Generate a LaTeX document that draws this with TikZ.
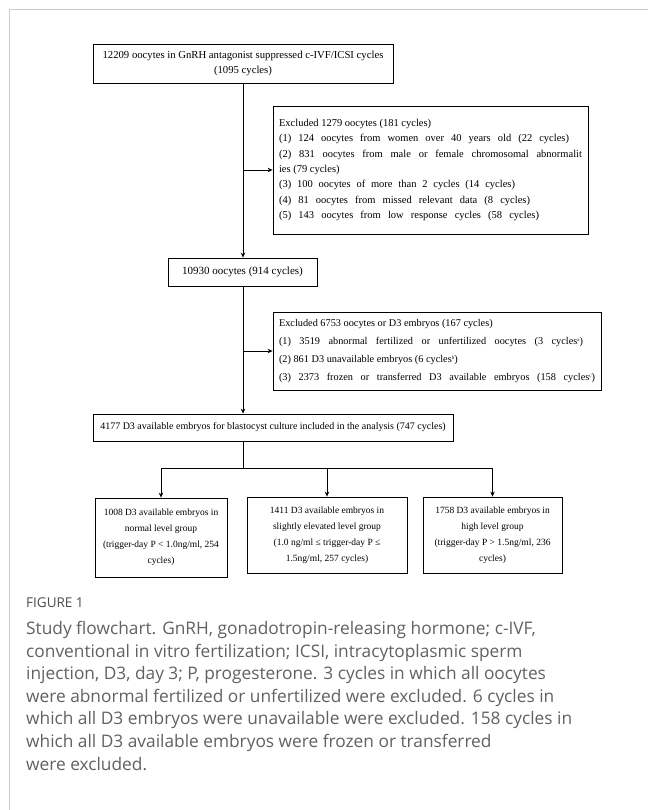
\documentclass[tikz,border=0pt]{standalone}
\usepackage{fontspec}
\setmainfont{Liberation Serif}
\newfontfamily\capfont{Open Sans}
\usetikzlibrary{arrows.meta}
\newcommand{\supl}[1]{\raisebox{3pt}{\fontsize{5}{5}\selectfont #1}}
\begin{document}
\begin{tikzpicture}[x=1pt,y=-1pt,
  box/.style={draw, line width=0.8pt, rectangle, inner sep=0pt},
  arr/.style={line width=0.8pt, -{Stealth[length=5pt,width=4.5pt]}},
  ln/.style={line width=0.8pt},
  grp/.style={box, align=center, font={\fontsize{9.5}{16}\selectfont}},
  exc/.style={box, align=left}]
\useasboundingbox (0,0) rectangle (648,810);
\draw[black!20, line width=0.8pt] (9,810) -- (9,9) -- (648,9);

\node[box, minimum width=300, minimum height=39, align=center,
  font={\fontsize{10.7}{15}\selectfont}] (b1) at (243,63.5)
  {12209 oocytes in GnRH antagonist suppressed c-IVF/ICSI cycles\\(1095 cycles)};

\node[exc, minimum width=315, minimum height=128,
  font={\fontsize{10.5}{15.3}\selectfont}] (ex1) at (430.5,170)
  {\makebox[298pt][l]{Excluded 1279 oocytes (181 cycles)}\\
   \makebox[290pt][s]{(1) 124 oocytes from women over 40 years old (22 cycles)}\\
   \makebox[303pt][s]{(2) 831 oocytes from male or female chromosomal abnormalit}\\
   ies (79 cycles)\\
   \makebox[236pt][s]{(3) 100 oocytes of more than 2 cycles (14 cycles)}\\
   \makebox[251pt][s]{(4) 81 oocytes from missed relevant data (8 cycles)}\\
   \makebox[260pt][s]{(5) 143 oocytes from low response cycles (58 cycles)}};

\node[box, minimum width=149, minimum height=28,
  font={\fontsize{11}{13}\selectfont}] (b2) at (242.5,272) {10930 oocytes (914 cycles)};

\node[exc, minimum width=328, minimum height=78,
  font={\fontsize{10.3}{18}\selectfont}] (ex2) at (437,351)
  {\makebox[312pt][l]{Excluded 6753 oocytes or D3 embryos (167 cycles)}\\
   \makebox[304pt][s]{(1) 3519 abnormal fertilized or unfertilized oocytes (3 cycles\supl{a})}\\
   \makebox[312pt][l]{(2) 861 D3 unavailable embryos (6 cycles\supl{b})}\\
   \makebox[316pt][s]{(3) 2373 frozen or transferred D3 available embryos (158 cycles\supl{c})}};

\node[box, minimum width=360, minimum height=27,
  font={\fontsize{10}{12}\selectfont}] (b3) at (273,427.5)
  {4177 D3 available embryos for blastocyst culture included in the analysis (747 cycles)};

\node[grp, minimum width=132, minimum height=79] (g1) at (161,537.5)
  {1008 D3 available embryos in\\normal level group\\(trigger-day P < 1.0ng/ml, 254\\cycles)};
\node[grp, minimum width=160, minimum height=76] (g2) at (327,535)
  {1411 D3 available embryos in\\slightly elevated level group\\(1.0 ng/ml ≤ trigger-day P ≤\\1.5ng/ml, 257 cycles)};
\node[grp, minimum width=139, minimum height=76] (g3) at (492.5,535)
  {1758 D3 available embryos in\\high level group\\(trigger-day P > 1.5ng/ml, 236\\cycles)};

% connectors
\coordinate (j1) at (b1.south |- ex1.west);
\coordinate (j2) at (b1.south |- ex2.west);
\draw[arr] (b1.south) -- (b2.north -| b1.south);
\draw[arr] (j1) -- (ex1.west);
\draw[arr] (b2.south -| b1.south) -- (b3.north -| b1.south);
\draw[arr] (j2) -- (ex2.west);
\coordinate (s0) at (b3.south -| b1.south);
\coordinate (s1) at (243,468);
\coordinate (hL) at (g1.north |- s1);
\coordinate (hM) at (g2.north |- s1);
\coordinate (hR) at (g3.north |- s1);
\draw[ln] (s0) -- (s1);
\draw[ln] (hL) -- (hR);
\draw[arr] (hL) -- (g1.north);
\draw[arr] (hM) -- (g2.north);
\draw[arr] (hR) -- (g3.north);

% caption
\node[anchor=base west, inner sep=0pt, text=black!70,
  font={\capfont\fontsize{13.5}{15}\selectfont}] (fig) at (26,607) {FIGURE 1};
\node[anchor=north west, inner sep=0pt, align=left, text=black!62,
  font={\capfont\fontsize{17.3}{22.6}\selectfont}] (cap) at (26,621)
  {Study flowchart. GnRH, gonadotropin-releasing hormone; c-IVF,\\
   conventional in vitro fertilization; ICSI, intracytoplasmic sperm\\
   injection, D3, day 3; P, progesterone. 3 cycles in which all oocytes\\
   were abnormal fertilized or unfertilized were excluded. 6 cycles in\\
   which all D3 embryos were unavailable were excluded. 158 cycles in\\
   which all D3 available embryos were frozen or transferred\\
   were excluded.};
\end{tikzpicture}
\end{document}
